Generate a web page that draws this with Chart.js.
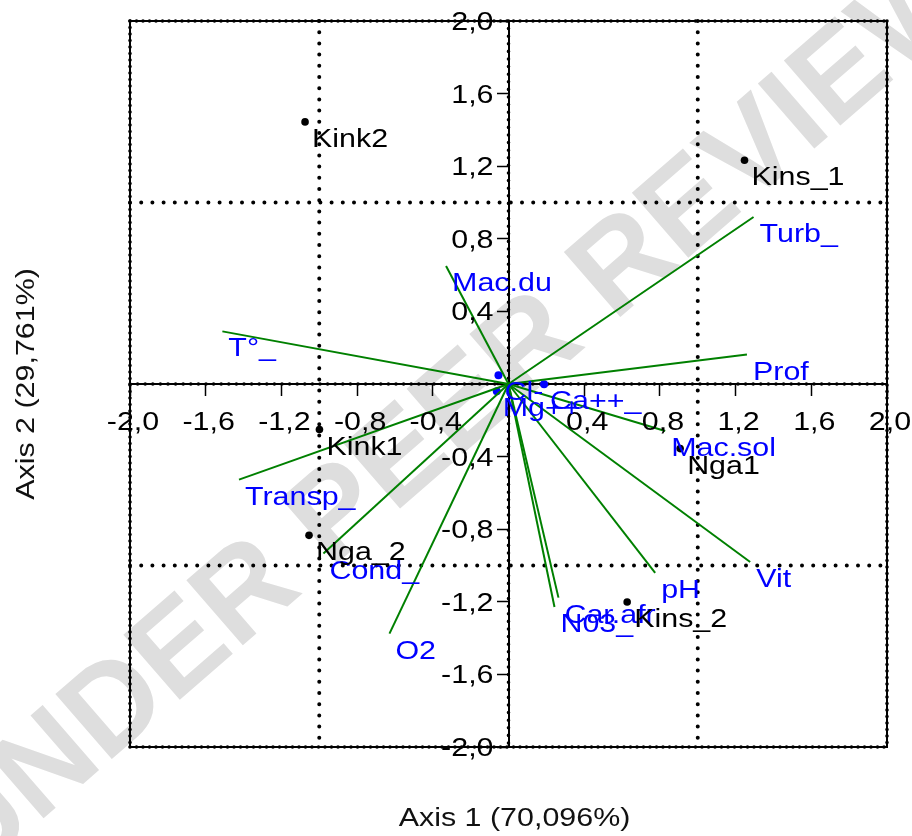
<!DOCTYPE html>
<html><head><meta charset="utf-8">
<script src="https://cdn.jsdelivr.net/npm/chart.js@4/dist/chart.umd.min.js"></script>
<style>html,body{margin:0;padding:0;background:#fff;} canvas{display:block;}</style>
</head><body>
<canvas id="c" width="912" height="836"></canvas>
<script>
// ---------- data ----------
const sampleNames = ['Kink2', 'Kins_1', 'Kink1', 'Nga_2', 'Nga1', 'Kins_2'];
const sampleX = [-1.075, 1.247, -0.999, -1.054, 0.907, 0.627];
const sampleY = [1.444, 1.233, -0.251, -0.834, -0.356, -1.201];

const varNames = ['T°_', 'Mac.du', 'Turb_', 'Prof', 'Transp_', 'Cond_', 'O2', 'Mac.sol', 'Vit', 'pH', 'Car.afr', 'N03_'];
const varX = [-1.512, -0.330, 1.295, 1.260, -1.424, -0.978, -0.629, 0.828, 1.277, 0.775, 0.264, 0.243];
const varY = [0.290, 0.650, 0.920, 0.162, -0.527, -0.934, -1.375, -0.259, -0.981, -1.041, -1.177, -1.229];

const minorVarNames = ['Cl-', 'Mg++', 'Ca++_'];
const minorVarX = [-0.053, -0.062, 0.188];
const minorVarY = [0.048, -0.040, -0.002];

const axisMin = -2, axisMax = 2, tickStep = 0.4;
const refLines = [-1, 1];
const xTitle = 'Axis 1 (70,096%)';
const yTitle = 'Axis 2 (29,761%)';
const watermark = 'UNDER PEER REVIEW';

// ---------- styles ----------
const FONT = '26px "Liberation Sans", Arial, sans-serif';
const SX = 1.17;
const GREEN = '#008000', BLUE = '#0000ff', BLACK = '#000000';

function stretchedText(ctx, text, x, y, align, color, rot) {
  ctx.save();
  ctx.translate(x, y);
  if (rot) ctx.rotate(rot);
  ctx.scale(SX, 1);
  ctx.font = FONT;
  ctx.fillStyle = color;
  ctx.textAlign = align;
  ctx.textBaseline = 'alphabetic';
  ctx.fillText(text, 0, 0);
  ctx.restore();
}
function dotted(ctx, x1, y1, x2, y2, gap, size) {
  ctx.save();
  ctx.strokeStyle = BLACK;
  ctx.lineWidth = size;
  ctx.lineCap = 'round';
  ctx.setLineDash([0, gap]);
  ctx.beginPath();
  ctx.moveTo(x1, y1);
  ctx.lineTo(x2, y2);
  ctx.stroke();
  ctx.restore();
}
function fmt(v) { return v.toFixed(1).replace('.', ','); }

const decor = {
  id: 'decor',
  beforeDraw(chart) {
    const ctx = chart.ctx;
    ctx.save();
    ctx.translate(455, 415);
    ctx.rotate(-41 * Math.PI / 180);
    ctx.font = 'bold 125px "Liberation Sans", Arial, sans-serif';
    ctx.fillStyle = '#dedede';
    ctx.textAlign = 'center';
    ctx.textBaseline = 'middle';
    ctx.fillText(watermark, 0, 0);
    ctx.restore();
  },
  beforeDatasetsDraw(chart) {
    const ctx = chart.ctx, xs = chart.scales.x, ys = chart.scales.y;
    const L = xs.getPixelForValue(axisMin), R = xs.getPixelForValue(axisMax);
    const T = ys.getPixelForValue(axisMax), B = ys.getPixelForValue(axisMin);
    // frame
    ctx.save();
    ctx.strokeStyle = BLACK; ctx.lineWidth = 2;
    ctx.strokeRect(L, T, R - L, B - T);
    ctx.restore();
    dotted(ctx, L, T, R, T, 6.5, 3.6);
    dotted(ctx, L, B, R, B, 6.5, 3.6);
    dotted(ctx, L, T, L, B, 6.5, 3.6);
    dotted(ctx, R, T, R, B, 6.5, 3.6);
    // reference dotted lines
    refLines.forEach(v => {
      const px = xs.getPixelForValue(v);
      dotted(ctx, px, T, px, B, 11.2, 4);
      const py = ys.getPixelForValue(v);
      dotted(ctx, L, py, R, py, 11.2, 4);
    });
    // dots over the zero axes
    const x0 = xs.getPixelForValue(0), y0 = ys.getPixelForValue(0);
    dotted(ctx, L, y0, R, y0, 7.6, 3.6);
    dotted(ctx, x0, T, x0, B, 7.6, 3.6);
  },
  afterDatasetsDraw(chart) {
    const ctx = chart.ctx, xs = chart.scales.x, ys = chart.scales.y;
    const x0 = xs.getPixelForValue(0), y0 = ys.getPixelForValue(0);
    // tick labels
    xs.ticks.forEach(t => {
      if (Math.abs(t.value) < 1e-9) return;
      stretchedText(ctx, fmt(t.value), xs.getPixelForValue(t.value) + 3, y0 + 46, 'center', BLACK);
    });
    ys.ticks.forEach(t => {
      if (Math.abs(t.value) < 1e-9) return;
      stretchedText(ctx, fmt(t.value), x0 - 15, ys.getPixelForValue(t.value) + 9, 'right', BLACK);
    });
    // vector labels
    varNames.forEach((n, i) => {
      const el = chart.getDatasetMeta(i).data[1];
      stretchedText(ctx, n, el.x + 6, el.y + 25, 'left', BLUE);
    });
    const nV = varNames.length;
    chart.getDatasetMeta(nV + 1).data.forEach((el, i) => {
      stretchedText(ctx, minorVarNames[i], el.x + 6, el.y + 25, 'left', BLUE);
    });
    chart.getDatasetMeta(nV).data.forEach((el, i) => {
      stretchedText(ctx, sampleNames[i], el.x + 7, el.y + 25, 'left', BLACK);
    });
    // axis titles
    const cx = (xs.left + xs.right) / 2 + 6;
    stretchedText(ctx, xTitle, cx, 826, 'center', '#111');
    stretchedText(ctx, yTitle, 34, (ys.top + ys.bottom) / 2, 'center', '#111', -Math.PI / 2);
  }
};

const vectorSets = varNames.map((n, i) => ({
  label: n,
  data: [{ x: 0, y: 0 }, { x: varX[i], y: varY[i] }],
  showLine: true,
  borderColor: GREEN,
  borderWidth: 2,
  pointRadius: 0,
  fill: false
}));

new Chart(document.getElementById('c'), {
  type: 'scatter',
  data: {
    datasets: [
      ...vectorSets,
      {
        label: 'samples',
        data: sampleX.map((x, i) => ({ x, y: sampleY[i] })),
        pointRadius: 3.8,
        pointBackgroundColor: BLACK,
        pointBorderWidth: 0,
        showLine: false
      },
      {
        label: 'minor variables',
        data: minorVarX.map((x, i) => ({ x, y: minorVarY[i] })),
        pointRadius: 4,
        pointBackgroundColor: BLUE,
        pointBorderWidth: 0,
        showLine: false
      }
    ]
  },
  options: {
    responsive: false,
    animation: false,
    layout: { padding: { left: 130, right: 25, top: 21, bottom: 89 } },
    plugins: { legend: { display: false }, tooltip: { enabled: false } },
    scales: {
      x: {
        type: 'linear', min: axisMin, max: axisMax, position: { y: 0 },
        ticks: { stepSize: tickStep, display: false },
        grid: { drawOnChartArea: false, drawTicks: true, tickLength: 11, tickWidth: 1.5, tickColor: BLACK },
        border: { display: true, color: BLACK, width: 2 }
      },
      y: {
        type: 'linear', min: axisMin, max: axisMax, position: { x: 0 },
        ticks: { stepSize: tickStep, display: false },
        grid: { drawOnChartArea: false, drawTicks: true, tickLength: 11, tickWidth: 1.5, tickColor: BLACK },
        border: { display: true, color: BLACK, width: 2 }
      }
    }
  },
  plugins: [decor]
});
</script>
</body></html>
